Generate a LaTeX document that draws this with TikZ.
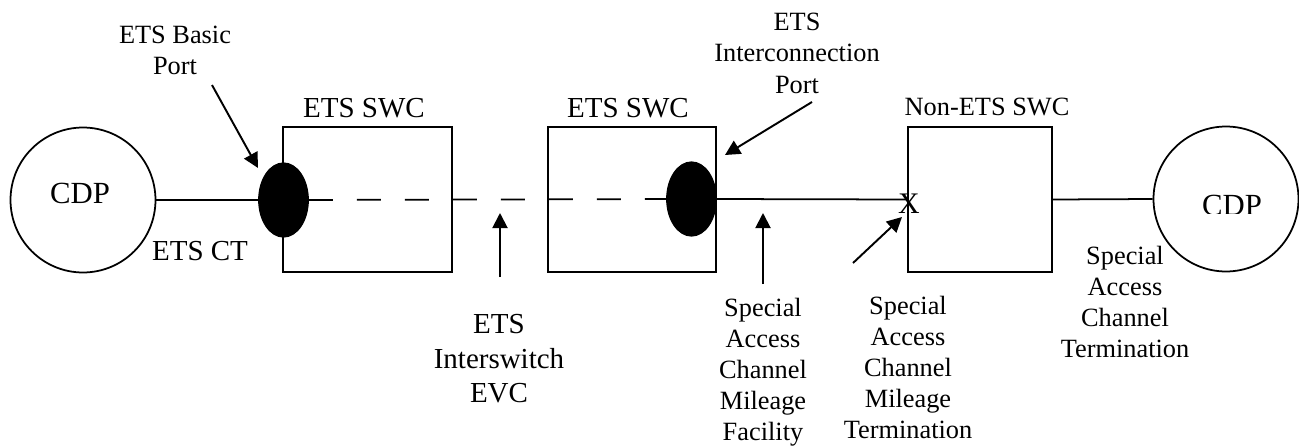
\documentclass[tikz,border=0pt]{standalone}
\usepackage{fontspec}
\setmainfont{Liberation Serif}
\usetikzlibrary{arrows.meta,shapes.geometric}
\begin{document}
\begin{tikzpicture}[x=0.02cm,y=-0.02cm,
  line width=1pt,
  lbl/.style={font=\fontsize{15}{17.7}\selectfont, align=center, inner sep=0pt},
  big/.style={font=\fontsize{16.5}{19.6}\selectfont, align=center, inner sep=0pt},
  cdptxt/.style={font=\fontsize{17.5}{20}\selectfont, inner sep=0pt},
  swc/.style={draw, rectangle, inner sep=0pt, minimum height=2.9cm},
  cdp/.style={draw, circle, minimum size=2.9cm, inner sep=0pt},
  port/.style={ellipse, fill=black, draw=black, minimum width=0.98cm, minimum height=1.47cm, inner sep=0pt},
  ptr/.style={-{Triangle[length=0.3cm,width=0.3cm]}, line width=1.1pt},
]
\useasboundingbox (0,0) rectangle (1299,447);

% customer premises
\node[cdp] (cdpL) at (83,200) {};
\node[cdptxt, anchor=base] (cdpLt) at (80,203) {CDP};
\node[cdp] (cdpR) at (1226,199) {};
\begin{scope}
  \clip (1150,150) rectangle (1299,213);
  \node[cdptxt, anchor=base] (cdpRt) at (1232,215) {CDP};
\end{scope}

% switching centres
\node[swc, minimum width=3.38cm] (swc1) at (367.5,199.5) {};
\node[swc, minimum width=3.36cm] (swc2) at (632,199.5) {};
\node[swc, minimum width=2.88cm] (swc3) at (980,199.5) {};

% ports
\node[port] (portL) at (283.5,200) {};
\node[port] (portR) at (691.5,199) {};

% connections
\draw (cdpL.east) -- (portL.west);
\draw[dash pattern=on 0.48cm off 0.48cm] (portL.east) -- (portR.west);
\draw (portR.east) -- (swc3.west);
\draw (swc3.east) -- (cdpR.west);
\node[font=\fontsize{17}{20}\selectfont, inner sep=0pt, anchor=base] (xmark) at (909,213) {X};

% labels
\node[lbl, anchor=north] (basic) at (175,25) {ETS Basic\\Port};
\node[big, anchor=base] (t1) at (364,117) {ETS SWC};
\node[big, anchor=base] (t2) at (628,117) {ETS SWC};
\node[lbl, anchor=north] (icp) at (797,12.5) {ETS\\Interconnection\\Port};
\node[lbl, anchor=base] (t3) at (987,115) {Non-ETS SWC};
\node[big, anchor=base] (ct) at (200,260) {ETS CT};
\node[big, anchor=north] (evc) at (499,313.7) {ETS\\Interswitch\\EVC};
\node[lbl, anchor=north] (fac) at (763,297) {Special\\Access\\Channel\\Mileage\\Facility};
\node[lbl, anchor=north] (term) at (908,295) {Special\\Access\\Channel\\Mileage\\Termination};
\node[lbl, anchor=north] (rterm) at (1125,245) {Special\\Access\\Channel\\Termination};

% pointers
\coordinate (a1s) at (212,85);  \coordinate (a1e) at (258,168);
\coordinate (a2s) at (812,102); \coordinate (a2e) at (725,155);
\coordinate (a3s) at (500,277); \coordinate (a3e) at (500,213);
\coordinate (a4s) at (763,284); \coordinate (a4e) at (763,213);
\coordinate (a5s) at (853,263); \coordinate (a5e) at (902,217);
\draw[ptr] (a1s) -- (a1e);
\draw[ptr] (a2s) -- (a2e);
\draw[ptr] (a3s) -- (a3e);
\draw[ptr] (a4s) -- (a4e);
\draw[ptr] (a5s) -- (a5e);
\end{tikzpicture}
\end{document}
